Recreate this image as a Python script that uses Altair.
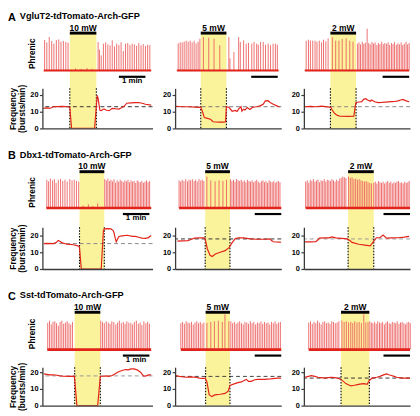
import altair as alt
import pandas as pd

FONT = "Liberation Sans"
RED = "#e2231a"
SPIKE = "#ec6060"
YELLOW = "#fbf39c"
AXIS_C = "#3a3a3a"

ROW_LETTERS = ["A", "B", "C"]
ROW_NAMES = ["VgluT2-tdTomato-Arch-GFP", "Dbx1-tdTomato-Arch-GFP", "Sst-tdTomato-Arch-GFP"]
POWERS = ["10 mW", "5 mW", "2 mW"]
SCALE_LABEL = "1 min"
SCALE_LEN_S = 60
COL_SPAN_S = [249, 240, 240]
FREQ_MAX = [24, 25, 23]
FREQ_TICKS = [0, 10, 20]

# light on / off (s) per row x column
STIM_ON = [[62, 58, 60], [84, 68, 100], [73, 69, 84]]
STIM_OFF = [[122, 116, 118], [140, 124, 158], [131, 124, 148]]
# scale bar start (s)
SCALEBAR_ON = [[173, 172, 178], [182, 180, 180], [182, 180, 180]]
# phrenic trace extent (s)
TRACE_SPAN = [[(3, 246), (4, 234), (2, 238)],
              [(9, 246), (9, 240), (4, 240)],
              [(11, 246), (13, 240), (11, 240)]]
# control frequency (dashed line)
CTRL = [[13, 13, 13], [15.2, 18, 18], [17.8, 17.5, 16.5]]

# phrenic bursts: (time s, relative amplitude)
A1_SPIKES = [(5, 91), (10, 84), (15.5, 100), (21, 88), (26, 80), (31.5, 91), (37, 93), (42, 86), (47.5, 88),
             (53, 85), (58, 83), (75, 6), (88, 5), (101, 7), (112, 5),
             (126, 85), (129, 62), (133, 45), (138, 80), (143, 84), (148, 78), (153, 75), (158, 90), (163, 72),
             (168, 80), (173, 76), (178, 84), (183, 58), (188, 80), (193, 82), (198, 76), (203, 80), (208, 78),
             (213, 74), (218, 82), (223, 75), (228, 79), (233, 73), (238, 77), (243, 76)]
A2_SPIKES = [(7, 81), (11.5, 84), (16, 84), (20.5, 86), (25, 89), (29.5, 86), (34, 89), (38.5, 84), (43, 89),
             (47.5, 81), (52, 86), (56, 95),
             (64, 100), (76, 98), (88, 95), (101, 75),
             (121.5, 100), (124, 36), (133, 55), (143.7, 100), (147.4, 85), (154.8, 90), (160.7, 80), (165.9, 82),
             (173.3, 80), (178.5, 85), (184.4, 80), (188.1, 77), (193.3, 85), (199.3, 85), (204.4, 77),
             (210.4, 80), (215.6, 75), (221.5, 80), (226.7, 80), (231.1, 77)]
A3_SPIKES = [(5.2, 89), (10.4, 92), (14.8, 89), (20, 89), (25.2, 89), (29.6, 86), (34.8, 89), (40, 84),
             (44.4, 92), (49.6, 87), (54.8, 96),
             (64.4, 99), (71.9, 89), (79.3, 89), (86.7, 94), (95.6, 96), (103.7, 89), (111.1, 86),
             (121, 80), (124.5, 84), (128, 78), (132, 86), (135.5, 80), (139, 83), (143, 125), (146.5, 82),
             (150, 78), (154, 85), (157.5, 80), (161, 84), (165, 76), (168.5, 82), (172, 79), (176, 86),
             (179.5, 78), (183, 82), (187, 80), (190.5, 84), (194, 76), (198, 82), (201.5, 79), (205, 85),
             (209, 77), (212.5, 81), (216, 78), (220, 84), (223.5, 76), (227, 80), (231, 86), (234.5, 78),
             (238, 82)]
B1_SPIKES = [(10, 90), (14, 85), (18, 94), (23, 88), (27, 92), (31, 80), (36, 90), (41, 93), (46, 86), (51, 90),
             (56, 84), (62, 92), (67, 88), (72, 90), (77, 86), (82, 84),
             (92, 8), (104, 12), (114, 6), (125, 15),
             (141, 92), (144.5, 88), (148, 94), (151.5, 86), (155, 90), (158.5, 85), (162, 92), (165.5, 80),
             (169, 88), (172.5, 84), (176, 90), (179.5, 86), (183, 82), (186.5, 88), (190, 85), (193.5, 90),
             (197, 82), (200.5, 88), (204, 84), (207.5, 86), (211, 80), (214.5, 88), (218, 84), (221.5, 82),
             (225, 86), (228.5, 80), (232, 84), (235.5, 88), (239, 82), (242.5, 86)]
B2_SPIKES = [(9, 88), (12.5, 84), (16, 90), (20, 86), (24, 92), (28, 85), (31.5, 90), (35, 88), (39, 92),
             (43, 86), (46.5, 90), (50, 84), (54, 92), (58, 88), (61.5, 90), (65, 86),
             (71.8, 100), (80.7, 88), (90.4, 85), (99.3, 88), (108.1, 86), (116.2, 90),
             (125, 92), (128.5, 86), (132, 90), (135.5, 84), (139, 92), (142.5, 88), (146, 86), (149.5, 90),
             (153, 84), (156.5, 88), (160, 82), (163.5, 90), (167, 86), (170.5, 84), (174, 88), (177.5, 82),
             (181, 86), (184.5, 90), (188, 84), (191.5, 80), (195, 86), (198.5, 88), (202, 82), (205.5, 86),
             (209, 80), (212.5, 88), (216, 84), (219.5, 82), (223, 86), (226.5, 80), (230, 84), (233.5, 86),
             (237, 82)]
B3_SPIKES = [(4, 84), (7.5, 88), (11, 80), (14.5, 90), (18, 86), (21.5, 92), (25, 84), (28.5, 88), (32, 90),
             (35.5, 82), (39, 88), (42.5, 86), (46, 92), (49.5, 84), (53, 90), (56.5, 88), (60, 86), (63.5, 92),
             (67, 88), (70.5, 84), (74, 90), (77.5, 86), (81, 94), (84.5, 96), (88, 100), (91.5, 98), (95, 95),
             (101, 100), (105, 96), (109, 98), (113, 92), (117, 94), (121, 90), (125, 92), (129, 88), (133, 86),
             (137, 84), (141, 86), (145, 82), (149, 80), (153, 78),
             (158, 80), (161.5, 84), (165, 78), (168.5, 86), (172, 82), (175.5, 80), (179, 84), (182.5, 78),
             (186, 82), (189.5, 86), (193, 80), (196.5, 84), (200, 78), (203.5, 82), (207, 80), (210.5, 84),
             (214, 86), (217.5, 80), (221, 82), (224.5, 78), (228, 84), (231.5, 80), (235, 82), (238, 86)]
C1_SPIKES = [(12, 85), (16, 92), (20, 80), (24, 88), (28, 90), (32, 84), (36, 76), (40, 88), (44, 92), (48, 82),
             (52, 86), (56, 90), (60, 84), (64, 80), (68, 88),
             (132, 92), (136, 88), (140, 84), (144.5, 90), (149, 86), (153, 82), (157, 90), (161.5, 88),
             (166, 80), (170, 86), (174, 92), (178.5, 84), (183, 88), (187, 82), (191, 90), (195.5, 86),
             (200, 84), (204, 80), (208, 88), (212.5, 92), (217, 82), (221, 86), (225, 78), (229.5, 90),
             (234, 84), (238, 88), (242, 82)]
C2_SPIKES = [(13, 84), (17, 88), (21, 82), (25, 90), (29, 86), (33, 84), (37, 88), (41, 80), (45, 86), (49, 90),
             (53, 84), (57, 88), (61, 82), (65, 86),
             (71.9, 85), (80.7, 88), (88.9, 90), (97.8, 92), (106.7, 88), (112.6, 112), (121.5, 90),
             (126, 90), (130, 84), (134, 88), (138, 82), (142, 86), (146, 90), (150, 84), (154, 80), (158, 88),
             (162, 86), (166, 82), (170, 90), (174, 84), (178, 88), (182, 80), (186, 86), (190, 84), (194, 90),
             (198, 82), (202, 88), (206, 84), (210, 86), (214, 80), (218, 88), (222, 84), (226, 90), (230, 82),
             (234, 86), (238, 88)]
C3_SPIKES = [(11, 86), (15, 90), (19, 82), (23, 88), (27, 84), (31, 92), (35, 86), (39, 80), (43, 88), (47, 90),
             (51, 84), (55, 86), (59, 82), (63, 90), (67, 88), (71, 84), (75, 86), (79, 90),
             (86, 92), (91, 88), (96, 90), (101, 86), (106, 88), (110.5, 84), (115, 90), (120, 86), (125, 88),
             (130, 84), (135.5, 112), (140, 86), (145, 88),
             (149, 90), (152.5, 86), (156, 84), (160, 88), (163.5, 82), (167, 90), (171, 86), (174.5, 84),
             (178, 88), (182, 80), (185.5, 86), (189, 90), (193, 84), (196.5, 82), (200, 88), (204, 86),
             (207.5, 84), (211, 90), (215, 82), (218.5, 86), (222, 88), (226, 84), (229.5, 80), (233, 86),
             (237, 88), (240.5, 84)]

# burst frequency (time s, bursts/min)
A1_FREQ = [(2, 12), (10, 12.3), (18, 12.1), (25, 13), (33, 13.1), (45, 13.2), (58, 13), (62, 12.6), (66, 0),
           (118, 0), (124, 19.8), (126, 18), (130, 10.8), (133, 10.6), (137, 11.5), (140, 11.6), (145, 10.9),
           (151, 10.6), (158, 12), (165, 11.8), (173, 11.6), (180, 12.5), (184, 13.1), (191, 15.1), (200, 15.3),
           (210, 15.4), (218, 15.5), (228, 14.9), (233, 14.5), (246, 14)]
A2_FREQ = [(2, 13.2), (15, 13), (29, 13), (45, 12.8), (55, 12.6), (58, 12.8), (62, 10), (66, 6.5), (73, 6),
           (80, 5.5), (86, 4), (100, 3.8), (110, 3.8), (114, 4), (116, 13), (122, 12.5), (129, 10.3),
           (136, 10.8), (140, 10.2), (144, 11.7), (149, 13), (151, 10.3), (155, 11.5), (158, 11), (163, 12.5),
           (169, 11.3), (176, 12.8), (184, 13), (192, 13.5), (199, 14.5), (204, 16.5), (210, 16.6),
           (215, 15.5), (222, 14.5), (230, 13.5), (236, 12.8)]
A3_FREQ = [(2, 13), (15, 13.2), (27, 13), (40, 13.3), (57, 12.8), (61, 12.7), (64, 11), (68, 9.5), (72, 8.5),
           (76, 7.8), (82, 7.3), (100, 7.2), (113, 7.3), (116, 13), (118, 15.5), (125, 15.8), (131, 16),
           (135, 17.4), (140, 17.8), (144, 17), (150, 16.3), (153, 17), (160, 16), (168, 15.5), (176, 15.6),
           (185, 15.8), (198, 16), (205, 16.1), (213, 16.5), (219, 17), (224, 17.4), (231, 16.5), (238, 16)]
B1_FREQ = [(3, 15.2), (10, 15.3), (25, 15.2), (32, 16), (36, 17.1), (40, 16.5), (44, 15.8), (55, 14.8),
           (62, 14.7), (70, 14.5), (78, 14), (83, 13.5), (84, 12.5), (88, 0), (133, 0), (138, 23), (140, 24),
           (148, 24.2), (155, 24), (160, 23), (162, 21.7), (165, 18), (167, 16.3), (170, 18), (173, 19.5),
           (180, 19.8), (192, 20.2), (203, 19.5), (210, 19.5), (218, 19), (225, 18.5), (233, 18.3),
           (240, 18.8), (246, 20)]
B2_FREQ = [(5, 16.7), (15, 16.8), (29, 17), (37, 17.8), (44, 18.5), (55, 18.7), (66, 18.6), (68, 18), (73, 12),
           (79, 8.2), (84, 7.5), (91, 9), (102, 10), (113, 11), (122, 12.8), (129, 15.8), (136, 18.2),
           (144, 18.7), (155, 18.6), (162, 18.3), (170, 18), (184, 17.8), (207, 17.8), (214, 18), (218, 17),
           (222, 16.3), (235, 16.1), (240, 16)]
B3_FREQ = [(2, 16.2), (15, 16.2), (27, 16.3), (32, 17.5), (35, 18.5), (45, 18.6), (57, 18.6), (64, 19.2),
           (72, 18.6), (85, 18.3), (98, 18), (104, 17), (109, 15.9), (124, 14.8), (138, 14.3), (150, 13.9),
           (157, 16.3), (164, 18.7), (172, 18.8), (179, 20.3), (187, 18.5), (198, 18.6), (213, 18.7),
           (227, 19.1), (238, 19.5)]
C1_FREQ = [(3, 19), (10, 18.7), (18, 18.4), (25, 18.5), (33, 18.2), (40, 17.8), (47, 17.6), (60, 17.5),
           (72, 17.6), (73, 16), (78, 0), (125, 0), (131, 17.6), (138, 17.6), (144, 17.8), (150, 17.5),
           (158, 18), (164, 19), (170, 20), (180, 21), (188, 21.6), (195, 21.4), (200, 22), (207, 22),
           (214, 21.4), (222, 20), (229, 17.6), (235, 17.8), (240, 18.4), (246, 18.4)]
C2_FREQ = [(2, 18), (10, 17.5), (24, 17), (35, 17.2), (46, 17), (55, 16.5), (61, 16.3), (68, 16.3), (72, 14.2),
           (77, 6.6), (83, 5.4), (90, 6.4), (102, 6.8), (113, 7.3), (120, 8.7), (124, 12.1), (135, 13.2),
           (142, 13.8), (150, 14.2), (156, 15), (161, 15.7), (166, 14.5), (172, 14.5), (180, 15.5), (187, 15.7),
           (202, 15.7), (216, 16), (231, 16.5), (240, 16.5)]
C3_FREQ = [(2, 17), (10, 17.5), (17, 18), (25, 17.5), (32, 17), (40, 16.8), (47, 16.5), (55, 16.8), (62, 17),
           (70, 16.8), (76, 16.5), (84, 15.7), (95, 13.2), (106, 11.8), (114, 12.2), (121, 12.6), (130, 13),
           (136, 13.2), (143, 12.8), (147, 14.7), (154, 16.5), (165, 17), (172, 17.5), (180, 18.4), (187, 19),
           (192, 18.5), (198, 18), (204, 17.5), (210, 17), (224, 16.5), (240, 16.5)]

SPIKES = [[A1_SPIKES, A2_SPIKES, A3_SPIKES], [B1_SPIKES, B2_SPIKES, B3_SPIKES], [C1_SPIKES, C2_SPIKES, C3_SPIKES]]
FREQS = [[A1_FREQ, A2_FREQ, A3_FREQ], [B1_FREQ, B2_FREQ, B3_FREQ], [C1_FREQ, C2_FREQ, C3_FREQ]]

# ---- layout / style ----
COL_W = [112, 108, 108]
ROW_H = [97, 99, 95]
TRACE_BASE = [38, 37, 38]
TRACE_TOP = [4, 5, 6]
PX_PER_UNIT = 1.7
DASH_COLORS = [["#333", "#777", "#888"], ["#888", "#333", "#999"], ["#999", "#444", "#333"]]
BASE_W = [2, 2.6, 2.6]


def panel(r, c):
    W, H = COL_W[c], ROW_H[r]
    fmax = FREQ_MAX[r]
    xs = alt.Scale(domain=[0, COL_SPAN_S[c]], nice=False, zero=False)
    xaxis = alt.Axis(title=None, labels=False, ticks=False, grid=False, domainColor=AXIS_C,
                     domainWidth=1.3, zindex=1)

    def X(f):
        return alt.X(f"{f}:Q", scale=xs, axis=xaxis)

    tscale = alt.Scale(domain=[0, 100], range=[TRACE_BASE[r], TRACE_TOP[r]], nice=False, zero=False)
    fscale = alt.Scale(domain=[0, fmax], range=[H, H - fmax * PX_PER_UNIT], nice=False, zero=False)

    on, off = STIM_ON[r][c], STIM_OFF[r][c]
    stim = pd.DataFrame({"t0": [on], "t1": [off], "mid": [(on + off) / 2], "label": [POWERS[c]]})
    edges = pd.DataFrame({"t": [on, off]})
    s0 = SCALEBAR_ON[r][c]
    sbar = pd.DataFrame({"t0": [s0], "t1": [s0 + SCALE_LEN_S], "mid": [s0 + SCALE_LEN_S / 2],
                         "label": [SCALE_LABEL]})
    tr = pd.DataFrame({"t0": [TRACE_SPAN[r][c][0]], "t1": [TRACE_SPAN[r][c][1]]})
    spk = pd.DataFrame(SPIKES[r][c], columns=["t", "h"])
    frq = pd.DataFrame(FREQS[r][c], columns=["t", "f"])
    ctrl = pd.DataFrame({"f": [CTRL[r][c]]})

    layers = []
    layers.append(alt.Chart(stim).mark_rect(color=YELLOW).encode(
        x=X("t0"), x2=alt.X2("t1"), y=alt.value(0), y2=alt.value(H)))
    layers.append(alt.Chart(stim).mark_rule(color="black", strokeWidth=3).encode(
        x=X("t0"), x2=alt.X2("t1"), y=alt.value(0)))
    layers.append(alt.Chart(stim).mark_text(font=FONT, fontSize=8.6, fontWeight="bold", color="black",
                                            baseline="alphabetic").encode(
        x=X("mid"), y=alt.value(-2.5), text="label:N"))
    layers.append(alt.Chart(spk).mark_rule(color=SPIKE, strokeWidth=1, opacity=0.9).encode(
        x=X("t"), y=alt.Y("h:Q", scale=tscale, axis=None), y2=alt.Y2Datum(0)))
    layers.append(alt.Chart(tr).mark_rule(color=RED, strokeWidth=BASE_W[r]).encode(
        x=X("t0"), x2=alt.X2("t1"), y=alt.YDatum(0, scale=tscale, axis=None)))
    layers.append(alt.Chart(sbar).mark_rule(color="black", strokeWidth=2.2).encode(
        x=X("t0"), x2=alt.X2("t1"), y=alt.YDatum(-19, scale=tscale, axis=None)))
    if c == 0:
        layers.append(alt.Chart(sbar).mark_text(font=FONT, fontSize=8, fontWeight="bold", color="black",
                                                baseline="middle").encode(
            x=X("mid"), y=alt.YDatum(-32, scale=tscale, axis=None), text="label:N"))
    layers.append(alt.Chart(ctrl).mark_rule(color=DASH_COLORS[r][c], strokeDash=[4, 3], strokeWidth=1).encode(
        y=alt.Y("f:Q", scale=fscale, axis=None)))
    layers.append(alt.Chart(edges).mark_rule(color="black", strokeDash=[1.5, 1.5], strokeWidth=1.1).encode(
        x=X("t"), y=alt.YDatum(fmax, scale=fscale, axis=None), y2=alt.Y2Datum(0)))
    yaxis = alt.Axis(values=FREQ_TICKS, grid=False, domainColor=AXIS_C, domainWidth=1.3, tickColor=AXIS_C,
                     tickSize=3, tickWidth=1.2, labelFont=FONT, labelFontSize=7.5, labelFontWeight="bold",
                     labelColor="black", labelPadding=1.5, titleFont=FONT, titleFontSize=8.5,
                     titleFontWeight="bold", titleColor="black", titlePadding=3, titleLineHeight=10,
                     zindex=1, title=(["Frequency", "(bursts/min)"] if c == 0 else None))
    layers.append(alt.Chart(frq).mark_line(color=RED, strokeWidth=1.2, clip=True).encode(
        x=X("t"), y=alt.Y("f:Q", scale=fscale, axis=yaxis)))
    if c == 0:
        layers.append(alt.Chart(pd.DataFrame({"label": ["Phrenic"]})).mark_text(
            font=FONT, fontSize=8.5, fontWeight="bold", color="black", angle=270, baseline="middle").encode(
            x=alt.value(-11), y=alt.YDatum(50, scale=tscale, axis=None), text="label:N"))
        layers.append(alt.Chart(pd.DataFrame({"label": [ROW_LETTERS[r]]})).mark_text(
            font=FONT, fontSize=11, fontWeight="bold", color="black", align="left",
            baseline="top").encode(x=alt.value(-35), y=alt.value(-21.5), text="label:N"))
        layers.append(alt.Chart(pd.DataFrame({"label": [ROW_NAMES[r]]})).mark_text(
            font=FONT, fontSize=9.3, fontWeight="bold", color="black", align="left",
            baseline="top").encode(x=alt.value(-23), y=alt.value(-21), text="label:N"))
    return alt.layer(*layers).resolve_scale(y="independent").properties(width=W, height=H)


panels = [panel(r, c) for r in range(3) for c in range(3)]
chart = alt.concat(*panels, columns=3, spacing={"row": 44, "column": 23}, bounds="flush").properties(
    padding=0).configure_view(stroke=None)
chart.save("out.html", embed_options={"renderer": "svg", "actions": False})
